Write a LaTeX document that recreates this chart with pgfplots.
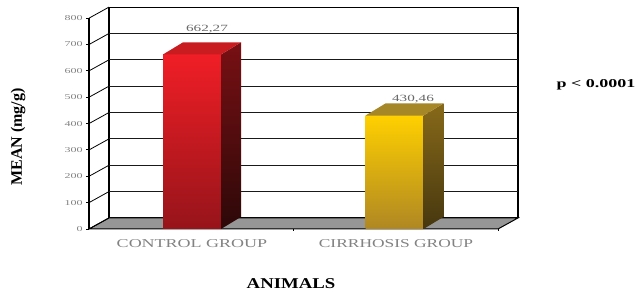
\documentclass[border=0pt]{standalone}
\usepackage{pgfplots}
\pgfplotsset{compat=1.18}
\usepackage{fontspec}
\setmainfont{Liberation Serif}
\definecolor{tickgray}{RGB}{130,130,130}
\definecolor{valgray}{RGB}{105,105,105}
\definecolor{floorgray}{RGB}{150,150,150}
\definecolor{redTop}{RGB}{240,30,38}
\definecolor{redBot}{RGB}{150,20,26}
\definecolor{redSideTop}{RGB}{120,16,20}
\definecolor{redSideBot}{RGB}{45,8,8}
\definecolor{redTopFace}{RGB}{200,28,32}
\definecolor{yelTop}{RGB}{255,208,0}
\definecolor{yelBot}{RGB}{175,135,35}
\definecolor{yelSideTop}{RGB}{135,105,25}
\definecolor{yelSideBot}{RGB}{70,55,15}
\definecolor{yelTopFace}{RGB}{165,135,40}
\begin{document}
\begin{tikzpicture}[x=1pt,y=1pt]
\useasboundingbox (0,0) rectangle (640,296);
\begin{axis}[at={(89pt,67pt)}, anchor=south west, scale only axis,
  width=429pt, height=221.9pt, xmin=89, xmax=518, ymin=0, ymax=842,
  hide axis, clip=false]
% back wall
\addplot[fill=white, draw=black, line width=1.1pt, mark=none] coordinates {(109,42) (518,42) (518,842) (109,842)} -- cycle;
\pgfplotsinvokeforeach{142,242,342,442,542,642,742}{
  \draw[black!90, line width=1.1pt] (axis cs:109,#1) -- (axis cs:518,#1);
}
% floor
\addplot[fill=floorgray, draw=black, line width=1pt, mark=none] coordinates {(89,0) (498,0) (518,42) (109,42)} -- cycle;
\draw[line width=1pt] (axis cs:293,0) -- (axis cs:293,-8);
\draw[line width=1pt] (axis cs:498,0) -- (axis cs:498,-8);
% left axis
\draw[line width=1.1pt] (axis cs:89,0) -- (axis cs:89,800);
\draw[line width=0.8pt] (axis cs:89,0) -- (axis cs:109,42);
\draw[line width=0.8pt] (axis cs:89,100) -- (axis cs:109,142);
\draw[line width=0.8pt] (axis cs:89,200) -- (axis cs:109,242);
\draw[line width=0.8pt] (axis cs:89,300) -- (axis cs:109,342);
\draw[line width=0.8pt] (axis cs:89,400) -- (axis cs:109,442);
\draw[line width=0.8pt] (axis cs:89,500) -- (axis cs:109,542);
\draw[line width=0.8pt] (axis cs:89,600) -- (axis cs:109,642);
\draw[line width=0.8pt] (axis cs:89,700) -- (axis cs:109,742);
\draw[line width=0.8pt] (axis cs:89,800) -- (axis cs:109,842);
\pgfplotsinvokeforeach{0,100,200,300,400,500,600,700,800}{
  \draw[line width=0.9pt] (axis cs:86,#1) -- (axis cs:89,#1);
  \node[anchor=east, text=tickgray, font=\fontsize{7.5}{8}\selectfont, xscale=1.6, inner sep=0pt] at (axis cs:83,#1) {#1};
}
% control bar (662.27)
\addplot[draw=none, top color=redTop, bottom color=redBot, mark=none] coordinates {(163,0) (221,0) (221,662.27) (163,662.27)} -- cycle;
\addplot[draw=none, top color=redSideTop, bottom color=redSideBot, mark=none] coordinates {(221,0) (241,46) (241,708.27) (221,662.27)} -- cycle;
\addplot[draw=none, fill=redTopFace, mark=none] coordinates {(163,662.27) (221,662.27) (241,708.27) (183,708.27)} -- cycle;
% cirrhosis bar (430.46)
\addplot[draw=none, top color=yelTop, bottom color=yelBot, mark=none] coordinates {(365.5,0) (423.5,0) (423.5,430.46) (365.5,430.46)} -- cycle;
\addplot[draw=none, top color=yelSideTop, bottom color=yelSideBot, mark=none] coordinates {(423.5,0) (443.5,46) (443.5,476.46) (423.5,430.46)} -- cycle;
\addplot[draw=none, fill=yelTopFace, mark=none] coordinates {(365.5,430.46) (423.5,430.46) (443.5,476.46) (385.5,476.46)} -- cycle;
% value labels
\node[text=valgray, font=\fontsize{9.5}{10}\selectfont, xscale=1.6] at (axis cs:207,759) {662,27};
\node[text=valgray, font=\fontsize{9.5}{10}\selectfont, xscale=1.6] at (axis cs:413,493) {430,46};
\end{axis}
\node[text=tickgray, font=\fontsize{12}{13}\selectfont, xscale=1.5] at (192,52) {CONTROL GROUP};
\node[text=tickgray, font=\fontsize{12}{13}\selectfont, xscale=1.45] at (396,52) {CIRRHOSIS GROUP};
\node[font=\fontsize{15}{16}\selectfont\bfseries, xscale=1.25] at (291,12) {ANIMALS};
\node[font=\fontsize{16}{17}\selectfont\bfseries, rotate=90] at (18,159) {MEAN (mg/g)};
\node[font=\fontsize{12}{13}\selectfont\bfseries, xscale=1.5] at (596,211) {p < 0.0001};
\end{tikzpicture}
\end{document}
